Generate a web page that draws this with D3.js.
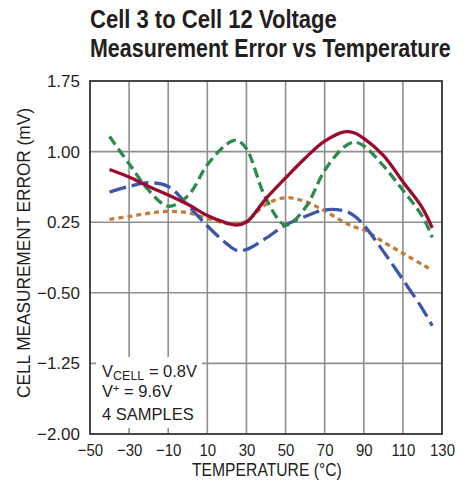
<!DOCTYPE html>
<html>
<head>
<meta charset="utf-8">
<script src="https://cdn.jsdelivr.net/npm/d3@7"></script>
<style>
  html, body { margin: 0; padding: 0; background: #fff; }
  svg { display: block; }
  text { font-family: "Liberation Sans", Arial, sans-serif; fill: #231f20; }
</style>
</head>
<body>
<svg id="chart" width="471" height="493"></svg>
<script>
// Temperatures (°C) at which each curve was sampled
const temps = [-40, -30, -20, -10, 0, 10, 20, 25, 30, 40, 50, 60, 70, 80, 85, 90, 100, 110, 120, 125];

// Cell measurement error (mV) per curve
const redSolid    = [0.81, 0.73, 0.63, 0.54, 0.44, 0.32, 0.24, 0.22, 0.25, 0.50, 0.72, 0.93, 1.11, 1.21, 1.20, 1.14, 0.96, 0.68, 0.40, 0.19];
const greenDashed = [1.16, 0.87, 0.59, 0.42, 0.53, 0.86, 1.08, 1.12, 1.03, 0.50, 0.22, 0.40, 0.80, 1.05, 1.10, 1.06, 0.85, 0.59, 0.31, 0.09];
const blueLong    = [0.57, 0.63, 0.67, 0.63, 0.43, 0.21, 0.02, -0.05, -0.04, 0.08, 0.22, 0.31, 0.38, 0.37, 0.32, 0.22, -0.06, -0.36, -0.67, -0.85];
const orangeDot   = [0.28, 0.31, 0.345, 0.365, 0.35, 0.29, 0.235, 0.235, 0.26, 0.44, 0.51, 0.47, 0.37, 0.25, 0.20, 0.17, 0.04, -0.08, -0.20, -0.26];

// Axis ticks
const xTicks = [-50, -30, -10, 10, 30, 50, 70, 90, 110, 130];
const yTicks = [-2.00, -1.25, -0.50, 0.25, 1.00, 1.75];

const titleLines = ["Cell 3 to Cell 12 Voltage", "Measurement Error vs Temperature"];

const svg = d3.select("#chart");
const plot = { left: 90, right: 442, top: 81, bottom: 434 };

const x = d3.scaleLinear().domain([-50, 130]).range([plot.left, plot.right]);
const y = d3.scaleLinear().domain([-2.00, 1.75]).range([plot.bottom, plot.top]);

// Squeeze a text horizontally to a target width (condensed look)
function condense(sel, width, anchorX) {
  sel.each(function () {
    const w = this.getComputedTextLength();
    const k = width / w;
    d3.select(this).attr("transform",
      `translate(${anchorX},0) scale(${k},1) translate(${-anchorX},0)`);
  });
}

// Title (condensed bold)
const title = svg.append("g").selectAll("text").data(titleLines).join("text")
  .attr("x", 90)
  .attr("y", (d, i) => 28 + i * 29)
  .attr("font-size", 25)
  .attr("font-weight", "bold")
  .text(d => d);
condense(title.filter((d, i) => i === 0), 247, 90);
condense(title.filter((d, i) => i === 1), 361, 90);

// Grid
const grid = svg.append("g").attr("stroke", "#8f8f8f").attr("stroke-width", 1.6);
grid.selectAll("line.v").data(xTicks.slice(1, -1)).join("line")
  .attr("x1", d => x(d)).attr("x2", d => x(d))
  .attr("y1", plot.top).attr("y2", plot.bottom);
grid.selectAll("line.h").data(yTicks.slice(1, -1)).join("line")
  .attr("x1", plot.left).attr("x2", plot.right)
  .attr("y1", d => y(d)).attr("y2", d => y(d));

// Curves
const line = d3.line()
  .x((d, i) => x(temps[i]))
  .y(d => y(d))
  .curve(d3.curveCatmullRom.alpha(0.5));

const series = [
  { values: orangeDot,   color: "#c57b3d", dash: "5,4" },
  { values: blueLong,    color: "#3c57a9", dash: "17,6" },
  { values: greenDashed, color: "#2c8a4d", dash: "10,5" },
  { values: redSolid,    color: "#9a0a2e", dash: null }
];

svg.append("g").attr("fill", "none").selectAll("path").data(series).join("path")
  .attr("d", d => line(d.values))
  .attr("stroke", d => d.color)
  .attr("stroke-width", 3.3)
  .attr("stroke-dasharray", d => d.dash);

// Conditions note on a white panel
svg.append("rect")
  .attr("x", 96).attr("y", 357).attr("width", 106).attr("height", 71)
  .attr("fill", "#fff");

const note = svg.append("g").attr("font-size", 16.5);
const l1 = note.append("text").attr("x", 102).attr("y", 377);
l1.append("tspan").text("V");
l1.append("tspan").attr("font-size", 12.5).attr("dy", 3).text("CELL");
l1.append("tspan").attr("dy", -3).text(" = 0.8V");
const l2 = note.append("text").attr("x", 102).attr("y", 397);
l2.append("tspan").text("V");
l2.append("tspan").attr("font-size", 11).attr("dy", -5).text("+");
l2.append("tspan").attr("dy", 5).text(" = 9.6V");
note.append("text").attr("x", 102).attr("y", 420).text("4 SAMPLES");

// Frame
svg.append("rect")
  .attr("x", plot.left).attr("y", plot.top)
  .attr("width", plot.right - plot.left).attr("height", plot.bottom - plot.top)
  .attr("fill", "none").attr("stroke", "#333").attr("stroke-width", 1.8);

// Axes (labels only)
const fmtY = v => d3.format(".2f")(v).replace("-", "\u2212");
const fmtX = v => String(v).replace("-", "\u2212");

const yAxis = svg.append("g")
  .attr("transform", `translate(${plot.left},0)`)
  .call(d3.axisLeft(y).tickValues(yTicks).tickFormat(fmtY).tickSize(0).tickPadding(10));
const xAxis = svg.append("g")
  .attr("transform", `translate(0,${plot.bottom})`)
  .call(d3.axisBottom(x).tickValues(xTicks).tickFormat(fmtX).tickSize(0).tickPadding(10));
[yAxis, xAxis].forEach(g => {
  g.select(".domain").remove();
  g.selectAll("text").attr("font-size", 17).attr("fill", "#231f20")
    .attr("font-family", "\"Liberation Sans\", Arial, sans-serif");
});
// Bottom tick labels are slightly narrower
xAxis.selectAll("text").attr("transform", "scale(0.88,1)");

// Axis titles
const xTitle = svg.append("text")
  .attr("x", 192).attr("y", 476)
  .attr("font-size", 18)
  .text("TEMPERATURE (°C)");
condense(xTitle, 150, 192);
svg.append("g")
  .attr("transform", `translate(30,253) rotate(-90)`)
  .append("text")
  .attr("x", -145).attr("y", 0)
  .attr("font-size", 18)
  .text("CELL MEASUREMENT ERROR (mV)")
  .call(sel => condense(sel, 290, -145));
</script>
</body>
</html>
